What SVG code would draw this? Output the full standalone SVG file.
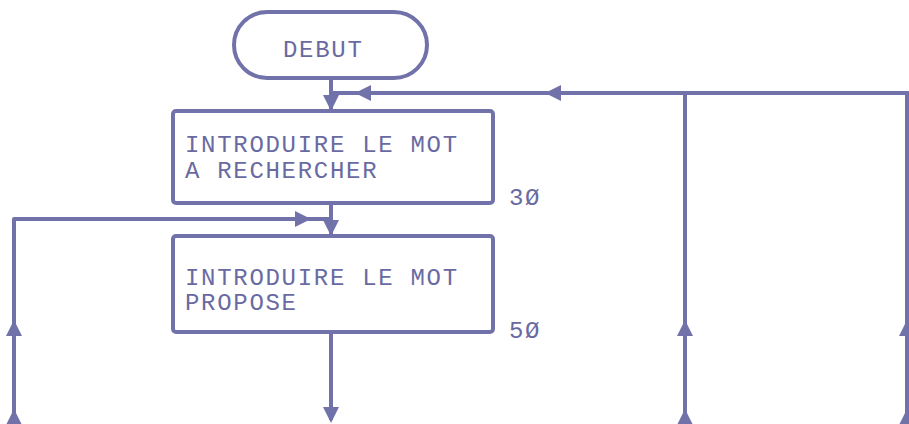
<svg xmlns="http://www.w3.org/2000/svg" width="909" height="424" viewBox="0 0 909 424">
<defs>
<style>
.box{fill:#fff;stroke:#7272aa;stroke-width:4}
.ln{fill:none;stroke:#7272aa;stroke-width:4;stroke-linejoin:round}
.ah{fill:#7272aa}
text{font-family:"Liberation Mono","DejaVu Sans Mono",monospace;font-size:24px;fill:#6a6aa2;letter-spacing:1.7px}
</style>
<path id="down" d="M0 0 L-8 -16 L8 -16 Z"/>
</defs>
<rect width="909" height="424" fill="#fff"/>
<g id="connectors">
<path class="ln" d="M331 78 V109"/>
<path class="ln" d="M909 93 H331"/>
<path class="ln" d="M685 93 V424"/>
<path class="ln" d="M907 93 V424"/>
<path class="ln" d="M331 203 V234"/>
<path class="ln" d="M14 424 V219 H331"/>
<path class="ln" d="M331 332 V420"/>
<g class="ah">
<use href="#down" transform="translate(331,111)"/>
<use href="#down" transform="translate(331,236)"/>
<use href="#down" transform="translate(331,423)"/>
<use href="#down" transform="translate(355,93) rotate(90)"/>
<use href="#down" transform="translate(545,93) rotate(90)"/>
<use href="#down" transform="translate(311,219) rotate(-90)"/>
<use href="#down" transform="translate(14,320) rotate(180)"/>
<use href="#down" transform="translate(14,409) rotate(180)"/>
<use href="#down" transform="translate(685,320) rotate(180)"/>
<use href="#down" transform="translate(685,409) rotate(180)"/>
<use href="#down" transform="translate(907,320) rotate(180)"/>
<use href="#down" transform="translate(907,409) rotate(180)"/>
</g>
</g>
<g id="debut">
<rect class="box" x="234" y="12" width="193" height="66" rx="33"/>
<text x="283" y="57">DEBUT</text>
</g>
<g id="introduire-mot">
<rect class="box" x="173" y="111" width="320" height="92" rx="3"/>
<text x="185" y="152">INTRODUIRE LE MOT</text>
<text x="185" y="178">A RECHERCHER</text>
</g>
<g id="introduire-propose">
<rect class="box" x="173" y="236" width="320" height="96" rx="3"/>
<text x="185" y="285">INTRODUIRE LE MOT</text>
<text x="185" y="310">PROPOSE</text>
</g>
<g id="labels">
<text x="509" y="205">3Ø</text>
<text x="509" y="338">5Ø</text>
</g>
</svg>
